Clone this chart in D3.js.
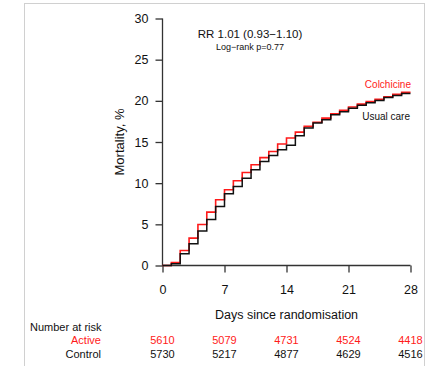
<!DOCTYPE html>
<html>
<head>
<meta charset="utf-8">
<script src="https://cdn.jsdelivr.net/npm/d3@7"></script>
<style>
html,body{margin:0;padding:0;background:#fff;}
svg{display:block;font-family:"Liberation Sans",Arial,sans-serif;}
</style>
</head>
<body>
<svg id="chart" width="430" height="366"></svg>
<script>
// Data
const days = d3.range(0, 29);
const colchicine = [0, 0.36, 1.82, 3.33, 4.98, 6.48, 7.98, 9.2, 10.3, 11.3, 12.24, 13.1, 13.85, 14.75, 15.48, 16.2, 16.9, 17.4, 17.9, 18.43, 18.84, 19.25, 19.6, 19.9, 20.2, 20.5, 20.8, 21.05, 21.05];
const usualCare = [0, 0.2, 1.42, 2.64, 4.18, 5.6, 7.17, 8.71, 9.6, 10.6, 11.63, 12.64, 13.37, 14.06, 14.62, 15.76, 16.7, 17.3, 17.7, 18.3, 18.68, 19.1, 19.45, 19.77, 20.05, 20.4, 20.65, 20.9, 20.9];
const xTicks = [0, 7, 14, 21, 28];
const yTicks = [0, 5, 10, 15, 20, 25, 30];
const riskActive = [5610, 5079, 4731, 4524, 4418];
const riskControl = [5730, 5217, 4877, 4629, 4516];

const svg = d3.select("#chart");

// frame
svg.append("rect").attr("x", 24.5).attr("y", 3.5).attr("width", 400).attr("height", 370)
  .attr("fill", "none").attr("stroke", "#d0d0d0").attr("stroke-width", 1);

const x = d3.scaleLinear().domain([0, 28]).range([162.5, 410.5]);
const y = d3.scaleLinear().domain([0, 30]).range([265.5, 18.5]);

// y axis
const yAxis = svg.append("g").attr("transform", `translate(${x(0)},0)`)
  .call(d3.axisLeft(y).tickValues(yTicks).tickSize(7).tickPadding(7));
// x axis
const xAxis = svg.append("g").attr("transform", `translate(0,${y(0)})`)
  .call(d3.axisBottom(x).tickValues(xTicks).tickSize(7).tickPadding(13));
[yAxis, xAxis].forEach(g => {
  g.select(".domain").attr("stroke", "#333").attr("stroke-width", 1.3)
    .attr("d", function(){ return d3.select(this).attr("d"); });
  g.selectAll(".tick line").attr("stroke", "#333").attr("stroke-width", 1.3);
  g.selectAll(".tick text").attr("font-size", 12.5).attr("fill", "#111")
    .attr("font-family", '"Liberation Sans",Arial,sans-serif');
});
// remove outer ticks from domains
yAxis.select(".domain").attr("d", `M0,${y(30)}V${y(0)}`);
xAxis.select(".domain").attr("d", `M${x(0)},0H${x(28)}`);

// lines
const line = d3.line().x((d, i) => x(days[i])).y(d => y(d)).curve(d3.curveStepAfter);
svg.append("path").datum(colchicine).attr("d", line)
  .attr("fill", "none").attr("stroke", "#ff1a1a").attr("stroke-width", 1.6);
svg.append("path").datum(usualCare).attr("d", line)
  .attr("fill", "none").attr("stroke", "#111").attr("stroke-width", 1.5);

// labels
svg.append("text").attr("transform", `translate(124,142) rotate(-90)`)
  .attr("text-anchor", "middle").attr("font-size", 13).attr("fill", "#111").text("Mortality, %");
svg.append("text").attr("x", (x(0) + x(28)) / 2).attr("y", 319)
  .attr("text-anchor", "middle").attr("font-size", 12.5).attr("fill", "#111").text("Days since randomisation");

svg.append("text").attr("x", 250).attr("y", 38).attr("text-anchor", "middle")
  .attr("font-size", 11.5).attr("fill", "#111").text("RR 1.01 (0.93\u22121.10)");
svg.append("text").attr("x", 250).attr("y", 49.5).attr("text-anchor", "middle")
  .attr("font-size", 9).attr("fill", "#111").text("Log\u2212rank p=0.77");

svg.append("text").attr("x", 411).attr("y", 87.5).attr("text-anchor", "end")
  .attr("font-size", 10).attr("fill", "#ff1a1a").text("Colchicine");
svg.append("text").attr("x", 410).attr("y", 120).attr("text-anchor", "end")
  .attr("font-size", 10).attr("fill", "#111").text("Usual care");

// number at risk
svg.append("text").attr("x", 30).attr("y", 331).attr("font-size", 11).attr("fill", "#111").text("Number at risk");
svg.append("text").attr("x", 101).attr("y", 344).attr("text-anchor", "end").attr("font-size", 11).attr("fill", "#ff1a1a").text("Active");
svg.append("text").attr("x", 101).attr("y", 358).attr("text-anchor", "end").attr("font-size", 11).attr("fill", "#111").text("Control");
svg.selectAll("text.ra").data(riskActive).join("text").attr("class", "ra")
  .attr("x", (d, i) => x(xTicks[i])).attr("y", 344).attr("text-anchor", "middle")
  .attr("font-size", 11).attr("fill", "#ff1a1a").text(d => d);
svg.selectAll("text.rc").data(riskControl).join("text").attr("class", "rc")
  .attr("x", (d, i) => x(xTicks[i])).attr("y", 358).attr("text-anchor", "middle")
  .attr("font-size", 11).attr("fill", "#111").text(d => d);
</script>
</body>
</html>
